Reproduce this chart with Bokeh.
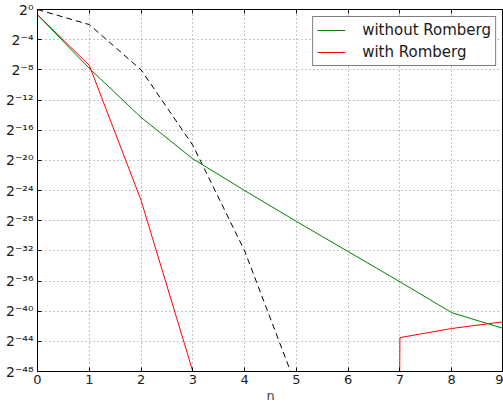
from bokeh.plotting import figure
from bokeh.models import FixedTicker, LinearAxis, Range1d, Legend, LegendItem
from bokeh.embed import file_html
from bokeh.resources import INLINE

# ---- data (log2 of the error) ----
n = [0, 1, 2, 3, 4, 5, 6, 7, 8, 9]
without_romberg_log2 = [-0.7, -7.8, -14.3, -19.8, -24.0, -28.1, -32.1, -36.1, -40.2, -42.3]
# None = zero error (cannot be shown on a log axis; clipped like matplotlib)
with_romberg_log2 = [-0.7, -7.4, -25.3, -48.0, None, None, None, -43.5, -42.3, -41.4]
ref_n = [0, 1, 2, 3, 4, 5]
ref_log2 = [0, -2, -8, -18, -32, -50]
x_ticks = [0, 1, 2, 3, 4, 5, 6, 7, 8, 9]
y_ticks = [0, -4, -8, -12, -16, -20, -24, -28, -32, -36, -40, -44, -48]

FLOOR = -1000
rom = [FLOOR if v is None else v for v in with_romberg_log2]

SUP = str.maketrans("-0123456789", "⁻⁰¹²³⁴⁵⁶⁷⁸⁹")
def pow2_label(e):
    return "2" + str(e).translate(SUP)

FONT = "DejaVu Sans"

p = figure(width=503, height=405, x_range=Range1d(0, 9), y_range=Range1d(-48, 0),
           output_backend="svg", toolbar_location=None,
           min_border_left=37, min_border_right=0, min_border_top=9, min_border_bottom=30)
p.background_fill_color = "white"
p.border_fill_color = "white"
p.outline_line_color = "black"
p.outline_line_width = 1

for ax in (p.xaxis[0], p.yaxis[0]):
    ax.major_tick_in = 4
    ax.major_tick_out = 0
    ax.minor_tick_in = 0
    ax.minor_tick_out = 0
    ax.axis_line_color = "black"
    ax.major_tick_line_color = "black"
    ax.major_label_text_font = FONT
    ax.major_label_text_font_size = "13px"
    ax.major_label_text_color = "#1a1a1a"

p.xaxis[0].ticker = FixedTicker(ticks=x_ticks)
p.xaxis[0].major_label_standoff = 3
p.xaxis[0].axis_label = "n"
p.xaxis[0].axis_label_text_font = FONT
p.xaxis[0].axis_label_text_font_size = "13px"
p.xaxis[0].axis_label_text_font_style = "normal"
p.xaxis[0].axis_label_standoff = 1

p.yaxis[0].ticker = FixedTicker(ticks=y_ticks)
p.yaxis[0].major_label_overrides = {e: pow2_label(e) for e in y_ticks}
p.yaxis[0].major_label_standoff = 4
p.yaxis[0].major_label_text_font_size = "14px"

top = LinearAxis(ticker=FixedTicker(ticks=x_ticks), major_tick_in=4, major_tick_out=0,
                 minor_tick_in=0, minor_tick_out=0,
                 major_label_overrides={t: "" for t in x_ticks},
                 major_label_standoff=0, axis_line_color="black")
p.add_layout(top, "above")

for g in (p.xgrid[0], p.ygrid[0]):
    g.grid_line_color = "#888888"
    g.grid_line_dash = "1 3"
    g.grid_line_width = 1
p.xgrid[0].ticker = FixedTicker(ticks=x_ticks)
p.ygrid[0].ticker = FixedTicker(ticks=y_ticks)

p.line(ref_n, ref_log2, line_color="black", line_dash="6 4", line_width=1)
g_line = p.line(n, without_romberg_log2, line_color="#008000", line_width=1)
r_line = p.line(n, rom, line_color="#ff0000", line_width=1)

# each glyph drawn twice so the legend sample takes the renderer's own colour
legend = Legend(items=[LegendItem(label="without Romberg", renderers=[g_line, g_line]),
                       LegendItem(label="with Romberg", renderers=[r_line, r_line])],
                location="top_right")
legend.border_line_color = "black"
legend.border_line_width = 1
legend.background_fill_alpha = 1
legend.label_text_font = FONT
legend.label_text_font_size = "15px"
legend.label_text_color = "#1a1a1a"
legend.glyph_width = 28
legend.glyph_height = 16
legend.label_height = 16
legend.label_standoff = 17
legend.spacing = 4
legend.padding = 4
legend.margin = 7
p.add_layout(legend, "center")

open("out.html", "w").write(file_html(p, INLINE))
